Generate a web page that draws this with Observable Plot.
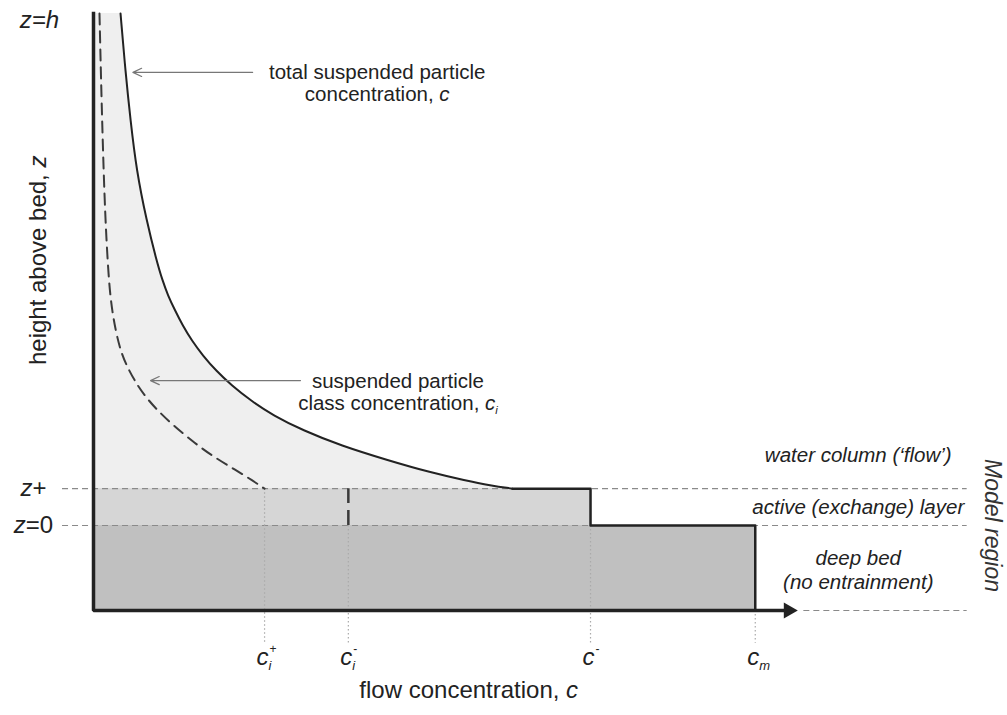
<!DOCTYPE html>
<html><head><meta charset="utf-8">
<script src="https://cdn.jsdelivr.net/npm/d3@7"></script>
<script src="https://cdn.jsdelivr.net/npm/@observablehq/plot@0.6"></script>
<style>html,body{margin:0;padding:0;background:#fff;} #chart svg{display:block}</style>
</head><body><div id="chart"></div>
<script>
// ---- levels (height above bed, arbitrary units, h = 100) ----
const Z_H = 100;
const Z_PLUS = 7.2;
const Z_ZERO = 0;
const Z_BED = -16.6;

// ---- concentration marks on the c axis (arbitrary units) ----
const C_I_PLUS = 24.3;
const C_I_MINUS = 36.2;
const C_MINUS = 70.6;
const C_M = 94.0;
const C_AXIS_END = 100;

// ---- total suspended particle concentration profile c(z) ----
const cTotal = [3.84, 4.55, 5.26, 6.11, 7.53, 8.95, 9.80, 10.58, 11.59, 12.67, 13.96, 15.53, 17.39, 19.63, 22.33, 25.54, 29.80, 35.09, 41.90, 47.87, 52.84, 56.39, 59.52];
const zTotal = [100, 88.48, 79.10, 69.34, 59.57, 51.76, 47.85, 44.92, 41.99, 39.06, 36.13, 33.20, 30.27, 27.34, 24.41, 21.48, 18.55, 15.63, 12.70, 10.35, 8.79, 7.81, 7.2];

// ---- suspended particle class concentration profile c_i(z) ----
const cClass = [0.85, 1.14, 1.56, 1.99, 2.41, 3.13, 3.84, 4.69, 5.82, 7.24, 9.09, 11.36, 13.92, 16.76, 20.31, 22.59, 24.3];
const zClass = [100, 83.01, 63.48, 51.76, 43.95, 38.09, 34.18, 31.25, 28.32, 25.39, 22.46, 19.53, 16.60, 13.67, 10.74, 8.79, 7.2];

// ---- tick labels on the c axis ----
const tickC = [C_I_PLUS, C_I_MINUS, C_MINUS, C_M];
const tickTop = [Z_PLUS, Z_ZERO, Z_ZERO, Z_BED];
const tickBase = ["c", "c", "c", "c"];
const tickSub = ["i", "i", "", "m"];
const tickSup = ["+", "-", "-", ""];

// ---- level labels ----
const topLabel = "z=h";
const levelZ = [Z_PLUS, Z_ZERO];
const levelText = ["_z_+", "_z_=0"];

// ---- region labels ----
const regionText = ["water column (\u2018flow\u2019)", "active (exchange) layer", "deep bed\n(no entrainment)"];
const regionZ = [13.9, 3.8, -8.5];

// ---- annotations ----
const annText = ["total suspended particle\nconcentration, _c_", "suspended particle\nclass concentration, _c_~i~"];
const annTextC = [40.3, 43.25];
const annTextZ = [86.4, 26.1];
const annArrowFrom = [22.6, 29.4];
const annArrowTo = [5.6, 8.1];
const annArrowZ = [88.5, 28.3];

// ---- layout constants (not data) ----
const GUIDE_START = -4.4, GUIDE_END = 124.1, GUIDE_BED_START = 100.9, TICK_END = -23;
const font = "'Liberation Sans', Arial, Helvetica, sans-serif";
const ink = "#222";

const total = cTotal.map((c, i) => ({c, z: zTotal[i]}));
const cls = cClass.map((c, i) => ({c, z: zClass[i]}));
const ticks = tickC.map((c, i) => ({c, top: tickTop[i], base: tickBase[i], sub: tickSub[i], sup: tickSup[i]}));
const levels = levelZ.map((z, i) => ({z, text: levelText[i]}));
const regions = regionZ.map((z, i) => ({z, text: regionText[i]}));
const anns = annText.map((t, i) => ({text: t, c: annTextC[i], z: annTextZ[i], from: annArrowFrom[i], to: annArrowTo[i], az: annArrowZ[i]}));
const layers = [
  {c: C_MINUS, z1: Z_ZERO, z2: Z_PLUS, fill: "#d6d6d6"},
  {c: C_M, z1: Z_BED, z2: Z_ZERO, fill: "#c0c0c0"}
];
const step = [
  {c: cTotal[cTotal.length - 1], z: Z_PLUS},
  {c: C_MINUS, z: Z_PLUS},
  {c: C_MINUS, z: Z_ZERO},
  {c: C_M, z: Z_ZERO},
  {c: C_M, z: Z_BED}
];
const axisPts = [{c: 0, z: Z_H}, {c: 0, z: Z_BED}, {c: C_AXIS_END - 1.3, z: Z_BED}];

const svg = Plot.plot({
  width: 1007,
  height: 715,
  marginLeft: 93,
  marginRight: 210,
  marginTop: 13,
  marginBottom: 105,
  x: {domain: [0, C_AXIS_END], axis: null},
  y: {domain: [Z_BED, Z_H], axis: null},
  style: {fontFamily: font, background: "#fff", overflow: "visible", color: ink},
  marks: [
    Plot.areaX(total, {x1: 0, x2: "c", y: "z", curve: "basis", fill: "#efefef"}),
    Plot.rect(layers, {x1: 0, x2: "c", y1: "z1", y2: "z2", fill: d => d.fill}),
    Plot.ruleY([Z_PLUS, Z_ZERO], {x1: GUIDE_START, x2: GUIDE_END, stroke: "#8a8a8a", strokeWidth: 1.2, strokeDasharray: "6,4"}),
    Plot.ruleY([Z_BED], {x1: GUIDE_BED_START, x2: GUIDE_END, stroke: "#8a8a8a", strokeWidth: 1.2, strokeDasharray: "6,4"}),
    Plot.ruleX(ticks, {x: "c", y1: "top", y2: TICK_END, stroke: "#aaa", strokeWidth: 1.2, strokeDasharray: "1.5,2.5"}),
    Plot.line(cls, {x: "c", y: "z", curve: "basis", stroke: "#3a3a3a", strokeWidth: 2, strokeDasharray: "11,7"}),
    Plot.ruleX([C_I_MINUS], {y1: Z_ZERO, y2: Z_PLUS, stroke: "#3a3a3a", strokeWidth: 2.5, strokeDasharray: "15,7"}),
    Plot.line(total, {x: "c", y: "z", curve: "basis", stroke: ink, strokeWidth: 2}),
    Plot.line(step, {x: "c", y: "z", stroke: ink, strokeWidth: 2.5}),
    Plot.line(axisPts, {x: "c", y: "z", stroke: ink, strokeWidth: 3.5, strokeLinejoin: "miter", strokeLinecap: "square"}),
    Plot.dot([C_AXIS_END], {x: d => d, y: Z_BED, symbol: "triangle", rotate: 90, r: 6, fill: ink, stroke: "none", dx: -9}),
    Plot.arrow(anns, {x1: "from", x2: "to", y1: "az", y2: "az", stroke: "#777", strokeWidth: 1.2, headLength: 12, headAngle: 50}),
    Plot.text(anns, {x: "c", y: "z", text: "text", fontSize: 20.5, lineHeight: 1.05, fill: ink}),
    Plot.text(regions, {x: C_M, y: "z", dx: 103, text: "text", fontSize: 20.5, fontStyle: "italic", lineHeight: 1.17, fill: ink}),
    Plot.text(["Model region"], {x: GUIDE_END, y: Z_ZERO, dx: 25, text: d => d, rotate: 90, fontSize: 23, fontStyle: "italic", fill: "#333"}),
    Plot.text([topLabel], {x: 0, y: Z_H, dx: -54, dy: 7, text: d => d, fontSize: 24, fontStyle: "italic", fill: ink}),
    Plot.text(levels, {x: 0, y: "z", dx: -60, text: "text", fontSize: 24, fill: ink}),
    Plot.text(["height above bed, _z_"], {x: 0, y: 51.8, dx: -55, text: d => d, rotate: -90, fontSize: 24, fill: ink}),
    Plot.text(["flow concentration, _c_"], {x: 53.3, y: Z_BED, dy: 80, text: d => d, fontSize: 24, fill: ink}),
    Plot.text(ticks, {x: "c", y: Z_BED, dx: -2, dy: 47, text: "base", fontSize: 24, fontStyle: "italic", fill: ink}),
    Plot.text(ticks, {x: "c", y: Z_BED, dx: 4, dy: 55, text: "sub", textAnchor: "start", fontSize: 13, fontStyle: "italic", fill: ink}),
    Plot.text(ticks, {x: "c", y: Z_BED, dx: 5, dy: 39, text: "sup", textAnchor: "start", fontSize: 12, fill: ink})
  ]
});
document.getElementById("chart").append(svg);

// turn _x_ into italic and ~x~ into italic subscript tspans
function enrich(root) {
  const NS = "http://www.w3.org/2000/svg";
  const els = [...root.querySelectorAll("text, tspan")].filter(e => e.children.length === 0 && /[_~]/.test(e.textContent));
  for (const el of els) {
    const s = el.textContent;
    el.textContent = "";
    for (const p of s.split(/(_[^_]+_|~[^~]+~)/).filter(p => p)) {
      const t = document.createElementNS(NS, "tspan");
      if (p[0] === "_") { t.setAttribute("font-style", "italic"); t.textContent = p.slice(1, -1); }
      else if (p[0] === "~") { t.setAttribute("font-style", "italic"); t.setAttribute("font-size", "0.55em"); t.setAttribute("dy", "0.4em"); t.textContent = p.slice(1, -1); }
      else t.textContent = p;
      el.appendChild(t);
    }
  }
}
enrich(svg);
</script>
</body></html>
